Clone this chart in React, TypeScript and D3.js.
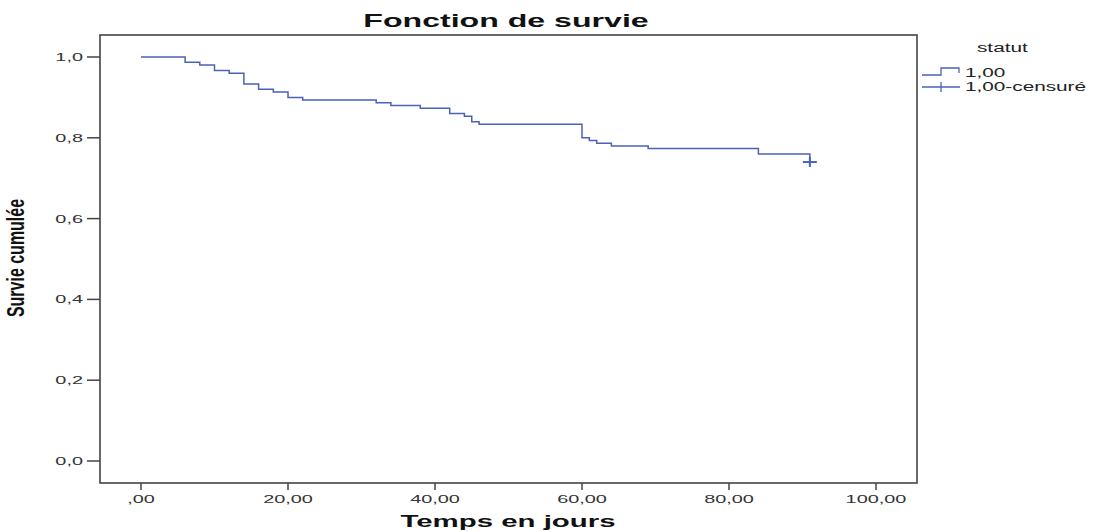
import React from 'react';
import * as d3 from 'd3';

// Kaplan-Meier estimate (n looks like 150)
const eventTimes = [0, 6, 8, 10, 12, 14, 16, 18, 20, 22, 32, 34, 38, 42, 44, 45, 46, 60, 61, 62, 64, 69, 84, 91];
const survival = [1, 0.9867, 0.98, 0.9667, 0.96, 0.9333, 0.92, 0.9133, 0.9, 0.8933, 0.8867, 0.88, 0.8733, 0.86, 0.8533, 0.84, 0.8333, 0.8, 0.7933, 0.7867, 0.78, 0.7733, 0.76, 0.74];
const censoredTimes = [91];
const censoredSurvival = [0.74];

const xTicks = [0, 20, 40, 60, 80, 100];
const xTickLabels = [',00', '20,00', '40,00', '60,00', '80,00', '100,00'];
const yTicks = [0, 0.2, 0.4, 0.6, 0.8, 1.0];
const yTickLabels = ['0,0', '0,2', '0,4', '0,6', '0,8', '1,0'];

const legendTitle = 'statut';
const legendLabels = ['1,00', '1,00-censuré'];

const W = 1095;
const H = 532;
const frame = { left: 100, top: 35, right: 917, bottom: 483 };
const lineColor = '#4a62b8';
const axisColor = '#444';
const font = '"Liberation Sans", Arial, sans-serif';
const stretch = 1.73; // the original picture is widened, text looks stretched

// text drawn at (x, y) and stretched horizontally
const Wide = ({ x, y, sx = stretch, size = 11.5, anchor = 'start', weight = 'normal', fill = '#333', children }: any) => (
  <text
    transform={`translate(${x},${y}) scale(${sx},1)`}
    fontSize={size}
    fontWeight={weight}
    fontFamily={font}
    textAnchor={anchor}
    fill={fill}
  >
    {children}
  </text>
);

const App = () => {
  const x = d3.scaleLinear().domain([0, 100]).range([141, 876]);
  const y = d3.scaleLinear().domain([0, 1]).range([461, 57]);

  const points = eventTimes.map((t, i) => [t, survival[i]] as [number, number]);
  const line = d3.line<[number, number]>()
    .x(d => x(d[0]))
    .y(d => y(d[1]))
    .curve(d3.curveStepAfter);

  return (
    <svg width={W} height={H} style={{ position: 'absolute', left: 0, top: 0, background: '#fff' }}>
      {/* title */}
      <Wide x={506} y={27} size={19} weight="bold" anchor="middle" fill="#111" sx={1.69}>Fonction de survie</Wide>

      {/* plot frame */}
      <rect x={frame.left} y={frame.top} width={frame.right - frame.left} height={frame.bottom - frame.top}
        fill="none" stroke={axisColor} strokeWidth={1.6} />

      {/* y axis */}
      {yTicks.map((v, i) => (
        <g key={'y' + i}>
          <line x1={frame.left - 13} x2={frame.left} y1={y(v)} y2={y(v)} stroke={axisColor} strokeWidth={1.5} />
          <Wide x={83} y={y(v) + 4} anchor="end">{yTickLabels[i]}</Wide>
        </g>
      ))}

      {/* x axis */}
      {xTicks.map((v, i) => (
        <g key={'x' + i}>
          <line x1={x(v)} x2={x(v)} y1={frame.bottom} y2={frame.bottom + 7} stroke={axisColor} strokeWidth={1.5} />
          <Wide x={x(v)} y={503} anchor="middle">{xTickLabels[i]}</Wide>
        </g>
      ))}

      {/* axis titles */}
      <Wide x={508} y={527} size={17} weight="bold" anchor="middle" fill="#111">Temps en jours</Wide>
      <text transform="translate(24,258) scale(1.45,1) rotate(-90)" fontSize={16} fontWeight="bold"
        fontFamily={font} textAnchor="middle" fill="#111">Survie cumulée</text>

      {/* survival curve */}
      <path d={line(points) || ''} fill="none" stroke={lineColor} strokeWidth={1.5} />
      {censoredTimes.map((t, i) => (
        <g key={'c' + i} stroke={lineColor} strokeWidth={2}>
          <line x1={x(t) - 7} x2={x(t) + 7} y1={y(censoredSurvival[i])} y2={y(censoredSurvival[i])} />
          <line x1={x(t)} x2={x(t)} y1={y(censoredSurvival[i]) - 5} y2={y(censoredSurvival[i]) + 5} />
        </g>
      ))}

      {/* legend */}
      <Wide x={977} y={52} size={12} fill="#222">{legendTitle}</Wide>
      <path d="M922,75 H941 V68 H959 V73" fill="none" stroke={lineColor} strokeWidth={1.3} />
      <Wide x={965} y={77} size={12} fill="#222">{legendLabels[0]}</Wide>
      <line x1={922} x2={960} y1={87} y2={87} stroke={lineColor} strokeWidth={1.3} />
      <line x1={941} x2={941} y1={82} y2={92} stroke={lineColor} strokeWidth={1.3} />
      <Wide x={965} y={91} size={12} fill="#222">{legendLabels[1]}</Wide>
    </svg>
  );
};

export default App;
